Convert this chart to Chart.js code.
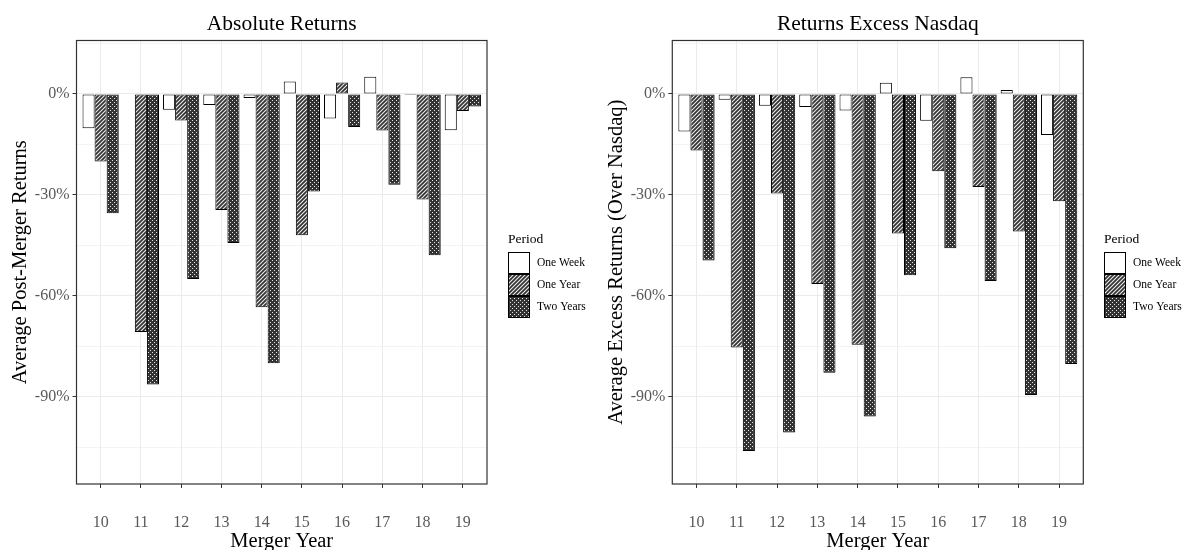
<!DOCTYPE html>
<html>
<head>
<meta charset="utf-8">
<script src="https://cdn.jsdelivr.net/npm/chart.js@4.4.1/dist/chart.umd.min.js"></script>
<style>
  html, body { margin: 0; padding: 0; background: #fff; width: 1182px; height: 550px; overflow: hidden; }
  canvas { position: absolute; top: 0; }
  #absChart { left: 0; }
  #excessChart { left: 590px; }
</style>
</head>
<body>
<canvas id="absChart" width="590" height="550"></canvas>
<canvas id="excessChart" width="592" height="550"></canvas>
<script>
// Datos (en %)
const years = [10, 11, 12, 13, 14, 15, 16, 17, 18, 19];
const periods = ['One Week', 'One Year', 'Two Years'];

const absWeek = [-10.2, null, -4.7, -3.3, -1.2, 3.7, -7.3, 5.1, -0.3, -10.8];
const absYear = [-20.1, -70.8, -7.9, -34.5, -63.4, -42.0, 3.4, -10.9, -31.4, -5.1];
const absTwo  = [-35.5, -86.4, -55.0, -44.3, -80.1, -29.0, -9.8, -27.0, -48.0, -3.7];

const exWeek = [-11.2, -1.7, -3.5, -3.9, -4.9, 3.3, -8.0, 5.0, 1.2, -12.2];
const exYear = [-16.8, -75.4, -29.6, -56.5, -74.6, -41.5, -23.0, -27.7, -40.9, -31.9];
const exTwo  = [-49.5, -106.2, -100.7, -82.9, -95.9, -53.9, -45.9, -55.6, -89.5, -80.3];

const yTicksMajor = [-90, -60, -30, 0];

Chart.defaults.font.family = "'Liberation Serif', 'Times New Roman', serif";
Chart.defaults.color = '#000';

// Texturas
function hatchPattern() {
    const c = document.createElement('canvas');
    c.width = 4; c.height = 4;
    const g = c.getContext('2d');
    g.fillStyle = '#333';
    g.fillRect(0, 0, 4, 4);
    g.strokeStyle = '#eee';
    g.lineWidth = 1.1;
    g.beginPath();
    g.moveTo(-1, 5); g.lineTo(5, -1);
    g.moveTo(-1, 1); g.lineTo(1, -1);
    g.moveTo(3, 5); g.lineTo(5, 3);
    g.stroke();
    return g.createPattern(c, 'repeat');
}

function dotPattern() {
    const c = document.createElement('canvas');
    c.width = 4; c.height = 4;
    const g = c.getContext('2d');
    g.fillStyle = '#333';
    g.fillRect(0, 0, 4, 4);
    g.fillStyle = '#e6e6e6';
    g.fillRect(0, 0, 1, 1);
    g.fillRect(2, 2, 1, 1);
    return g.createPattern(c, 'repeat');
}

const fills = ['#ffffff', hatchPattern(), dotPattern()];

// Marco del panel y leyenda estilo ggplot
const ggDecor = {
    id: 'ggDecor',
    afterDatasetsDraw(chart) {
        const {ctx, chartArea: a} = chart;
        ctx.save();
        ctx.strokeStyle = '#333';
        ctx.lineWidth = 1.2;
        ctx.strokeRect(a.left, a.top, a.right - a.left, a.bottom - a.top);
        ctx.restore();
    },
    afterDraw(chart) {
        const {ctx, chartArea: a} = chart;
        const x0 = Math.round(a.right + 21);
        ctx.save();
        ctx.fillStyle = '#000';
        ctx.textBaseline = 'middle';
        ctx.font = "13.5px 'Liberation Serif'";
        ctx.fillText('Period', x0, 239);
        ctx.font = "11.5px 'Liberation Serif'";
        chart.data.datasets.forEach((ds, i) => {
            const y = 252 + i * 22;
            ctx.fillStyle = ds.backgroundColor;
            ctx.fillRect(x0, y, 22, 22);
            ctx.strokeStyle = '#000';
            ctx.lineWidth = 1;
            ctx.strokeRect(x0 + 0.5, y + 0.5, 21, 21);
            ctx.fillStyle = '#000';
            ctx.fillText(ds.label, x0 + 29, y + 11);
        });
        ctx.restore();
    }
};

function makeChart(id, title, yTitle, series, yWidth, yTitlePad, rightPad) {
    const datasets = series.map((vals, i) => ({
        label: periods[i],
        data: vals.map((v, j) => ({x: years[j], y: v})),
        backgroundColor: fills[i],
        borderColor: '#000',
        borderWidth: 1,
        borderSkipped: false,
        barPercentage: 1,
        categoryPercentage: 0.9
    }));

    return new Chart(document.getElementById(id), {
        type: 'bar',
        data: {datasets},
        plugins: [ggDecor],
        options: {
            responsive: false,
            animation: false,
            devicePixelRatio: 1,
            layout: {padding: {right: rightPad}},
            scales: {
                x: {
                    type: 'linear',
                    min: 9.4,
                    max: 19.6,
                    offset: false,
                    ticks: {
                        stepSize: 1,
                        includeBounds: false,
                        autoSkip: false,
                        maxRotation: 0,
                        padding: 25,
                        color: '#595959',
                        font: {size: 16}
                    },
                    grid: {offset: false, color: '#ebebeb', lineWidth: 1, tickLength: 4, tickColor: '#333'},
                    border: {display: false},
                    title: {display: true, text: 'Merger Year', color: '#000', font: {size: 20.5, lineHeight: 0.85}, padding: 0},
                    afterFit(s) { s.height = 66; }
                },
                y: {
                    min: -116,
                    max: 15.9,
                    ticks: {
                        stepSize: 15,
                        includeBounds: false,
                        padding: 3,
                        color: '#595959',
                        font: {size: 16},
                        callback: v => yTicksMajor.includes(v) ? v + '%' : ''
                    },
                    grid: {
                        color: '#ebebeb',
                        lineWidth: c => (c.tick && c.tick.value % 30 === 0) ? 1 : 0.6,
                        tickLength: 4,
                        tickColor: c => (c.tick && c.tick.value % 30 === 0) ? '#333' : 'rgba(0,0,0,0)'
                    },
                    border: {display: false},
                    title: {display: true, text: yTitle, color: '#000', font: {size: 20.5, lineHeight: 1}, padding: {top: yTitlePad, bottom: 0}},
                    afterFit(s) { s.width = yWidth; }
                }
            },
            plugins: {
                legend: {display: false},
                tooltip: {enabled: false},
                title: {
                    display: true,
                    text: title,
                    fullSize: false,
                    color: '#000',
                    font: {size: 21.5, weight: 'normal', lineHeight: 1},
                    padding: {top: 14, bottom: 5}
                }
            }
        }
    });
}

makeChart('absChart', 'Absolute Returns', 'Average Post-Merger Returns',
    [absWeek, absYear, absTwo], 76.5, 10.5, 103);
makeChart('excessChart', 'Returns Excess Nasdaq', 'Average Excess Returns (Over Nasdaq)',
    [exWeek, exYear, exTwo], 82.3, 16, 98.7);
</script>
</body>
</html>
